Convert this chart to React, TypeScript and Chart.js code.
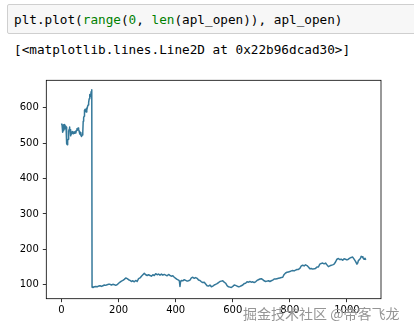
import React, { useEffect, useRef } from "react";
import { Chart, registerables } from "chart.js";

Chart.register(...registerables);

// [trading-day index, AAPL open price]
const preSplitOpen: [number, number][] = [
  [0, 556], [2, 551], [3, 538], [4, 531], [5, 546], [6, 535], [7, 541], [8, 552], [9, 548], [10, 553],
  [11, 540], [12, 551], [13, 547], [14, 542], [15, 549], [16, 545], [17, 508], [18, 503], [19, 499], [20, 496],
  [21, 503], [22, 507], [23, 511], [24, 518], [25, 522], [26, 534], [27, 540], [28, 546], [29, 541], [30, 538],
  [31, 530], [32, 525], [33, 521], [34, 528], [35, 532], [36, 526], [37, 531], [38, 528], [40, 533], [42, 527],
  [44, 532], [46, 528], [48, 533], [50, 529], [52, 536], [54, 541], [56, 537], [58, 543], [60, 538], [62, 533],
  [64, 526], [66, 530], [68, 522], [70, 519], [72, 523], [74, 528], [75, 530], [76, 562], [77, 568], [78, 572],
  [79, 576], [80, 590], [81, 593], [83, 596], [85, 590], [87, 588], [88, 600], [89, 594], [91, 603], [93, 608],
  [95, 615], [97, 626], [99, 638], [101, 632], [103, 641], [104, 646], [106, 651],
];

const postSplitOpen: [number, number][] = [
  [107, 93], [110, 92], [115, 94], [120, 95], [125, 94], [130, 96], [135, 97], [140, 95], [145, 97], [150, 99],
  [155, 98], [160, 100], [165, 101], [170, 101], [175, 99], [180, 101], [185, 100], [190, 98], [195, 100], [200, 104],
  [205, 107], [210, 110], [215, 112], [220, 115], [225, 119], [230, 117], [235, 114], [240, 112], [245, 109], [250, 111],
  [255, 108], [260, 112], [265, 109], [270, 117], [275, 119], [280, 124], [285, 128], [290, 132], [295, 128], [300, 126],
  [305, 128], [310, 126], [315, 124], [320, 128], [325, 126], [330, 131], [335, 128], [340, 130], [345, 127], [350, 130],
  [355, 127], [360, 129], [365, 127], [370, 125], [375, 129], [380, 126], [385, 124], [390, 125], [395, 121], [400, 118],
  [405, 115], [410, 113], [413, 110], [415, 95], [417, 108], [420, 112], [425, 111], [430, 114], [435, 112], [440, 110],
  [445, 111], [450, 113], [455, 119], [460, 121], [465, 118], [470, 120], [475, 118], [480, 113], [485, 112], [490, 108],
  [495, 106], [500, 107], [505, 102], [510, 97], [515, 96], [520, 99], [525, 94], [530, 96], [535, 99], [540, 101],
  [545, 103], [550, 106], [555, 109], [560, 110], [565, 111], [570, 107], [575, 104], [580, 97], [585, 94], [590, 93],
  [595, 92], [600, 95], [605, 99], [610, 98], [615, 96], [620, 94], [625, 95], [630, 97], [635, 99], [640, 103],
  [645, 104], [650, 108], [655, 107], [660, 109], [665, 107], [670, 108], [675, 106], [680, 108], [685, 112], [690, 114],
  [695, 116], [700, 117], [705, 114], [710, 111], [715, 109], [720, 110], [725, 111], [730, 109], [735, 111], [740, 113],
  [745, 116], [750, 116], [755, 117], [760, 118], [765, 119], [770, 120], [775, 121], [780, 129], [785, 133], [790, 135],
  [795, 136], [800, 137], [805, 139], [810, 140], [815, 139], [820, 141], [825, 143], [830, 143], [835, 146], [840, 153],
  [845, 155], [850, 153], [855, 156], [860, 154], [865, 150], [870, 145], [875, 146], [880, 144], [885, 145], [890, 146],
  [895, 150], [900, 150], [905, 158], [910, 160], [915, 161], [920, 159], [925, 161], [930, 156], [935, 151], [940, 153],
  [945, 155], [950, 156], [955, 158], [960, 164], [965, 172], [970, 174], [975, 171], [980, 172], [985, 169], [990, 173],
  [995, 172], [1000, 170], [1005, 172], [1010, 175], [1015, 177], [1020, 178], [1025, 172], [1030, 166], [1035, 158], [1038, 162],
  [1040, 168], [1045, 172], [1048, 176], [1050, 180], [1053, 179], [1056, 176], [1060, 172], [1063, 175], [1066, 170],
];

const xTickValues = [0, 200, 400, 600, 800, 1000];
const yTickValues = [100, 200, 300, 400, 500, 600];

const framePlugin = {
  id: "frame",
  afterDraw(chart: any) {
    const { ctx, chartArea: a } = chart;
    ctx.save();
    ctx.strokeStyle = "#000";
    ctx.lineWidth = 0.8;
    ctx.strokeRect(a.left, a.top, a.right - a.left, a.bottom - a.top);
    ctx.restore();
  },
};

const tickFont = { family: "'DejaVu Sans', sans-serif", size: 10 };

export default function App() {
  const ref = useRef<HTMLCanvasElement | null>(null);

  useEffect(() => {
    if (!ref.current) return;
    const points = [...preSplitOpen, ...postSplitOpen].map(([x, y]) => ({ x, y }));
    const chart = new Chart(ref.current, {
      type: "line",
      data: {
        datasets: [
          {
            data: points,
            borderColor: "#34789a",
            borderWidth: 1.5,
            pointRadius: 0,
            tension: 0,
            fill: false,
            borderJoinStyle: "round",
          },
        ],
      },
      plugins: [framePlugin],
      options: {
        animation: false,
        responsive: false,
        events: [],
        layout: { padding: { top: 10.3, right: 33, left: 0, bottom: 0 } },
        plugins: { legend: { display: false }, tooltip: { enabled: false }, title: { display: false } },
        scales: {
          x: {
            type: "linear",
            min: -53.3,
            max: 1119.3,
            afterBuildTicks: (s: any) => {
              s.ticks = xTickValues.map((v) => ({ value: v }));
            },
            afterFit: (s: any) => {
              s.height = 32.3;
            },
            ticks: {
              autoSkip: false,
              maxRotation: 0,
              padding: 2,
              color: "#000",
              font: tickFont,
              callback: (v: any) => String(v),
            },
            grid: { drawOnChartArea: false, tickLength: 3.5, color: "#000", lineWidth: 0.8 },
            border: { display: false },
          },
          y: {
            type: "linear",
            min: 60.3,
            max: 678,
            afterBuildTicks: (s: any) => {
              s.ticks = yTickValues.map((v) => ({ value: v }));
            },
            afterFit: (s: any) => {
              s.width = 46.3;
            },
            ticks: {
              autoSkip: false,
              padding: 4,
              color: "#000",
              font: tickFont,
              callback: (v: any) => String(v),
            },
            grid: { drawOnChartArea: false, tickLength: 3.5, color: "#000", lineWidth: 0.8 },
            border: { display: false },
          },
        },
      },
    } as any);
    return () => chart.destroy();
  }, []);

  const mono: React.CSSProperties = {
    fontFamily: "'DejaVu Sans Mono', monospace",
    fontSize: 12.7,
    whiteSpace: "pre",
    position: "absolute",
    left: 14,
    lineHeight: "16px",
    color: "#000",
  };
  const green = { color: "#008000" };

  return (
    <div style={{ position: "fixed", left: 0, top: 0, width: 414, height: 331, background: "#fff", overflow: "hidden" }}>
      <div
        style={{
          position: "absolute",
          left: 7,
          top: 4,
          width: 420,
          height: 28,
          background: "#f7f7f7",
          border: "1px solid #cfcfcf",
          borderRadius: 2,
        }}
      />
      <div style={{ ...mono, top: 12 }}>
        plt.plot(<span style={green}>range</span>(<span style={green}>0</span>, <span style={green}>len</span>(apl_open)), apl_open)
      </div>
      <div style={{ ...mono, top: 42 }}>[&lt;matplotlib.lines.Line2D at 0x22b96dcad30&gt;]</div>
      <canvas
        ref={ref}
        width={414}
        height={261}
        style={{ position: "absolute", left: 0, top: 70, width: 414, height: 261 }}
      />
      <div
        style={{
          position: "absolute",
          left: 243,
          top: 303,
          fontFamily: "'Noto Sans CJK SC', sans-serif",
          fontSize: 14,
          lineHeight: "20px",
          color: "rgba(130,130,130,0.85)",
          whiteSpace: "pre",
          textShadow: "0 0 1px #fff",
        }}
      >
        掘金技术社区 @帝客飞龙
      </div>
    </div>
  );
}
